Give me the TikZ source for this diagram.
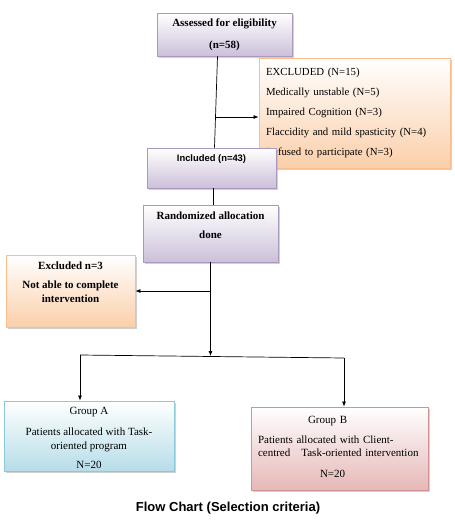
\documentclass[tikz,border=0pt]{standalone}
\usepackage{fontspec}
\setmainfont{Liberation Serif}
\setsansfont{Liberation Sans}
\usetikzlibrary{arrows.meta,shadows}

\definecolor{lavfill}{HTML}{CCC0D9}
\definecolor{lavline}{HTML}{A899BF}
\definecolor{orafill}{HTML}{FBCFAA}
\definecolor{oraline}{HTML}{F9BE8C}
\definecolor{bluefill}{HTML}{B6DDE8}
\definecolor{blueline}{HTML}{8CCADB}
\definecolor{pinkfill}{HTML}{E5B8B7}
\definecolor{pinkline}{HTML}{D49292}

\tikzset{
    box/.style={draw, line width=0.8pt, inner sep=2pt,
        drop shadow={shadow xshift=2pt, shadow yshift=-2pt, fill=gray!60, opacity=0.6}},
    lavbox/.style={box, draw=lavline, top color=white, bottom color=lavfill},
    orabox/.style={box, draw=oraline, top color=white, bottom color=orafill},
    bluebox/.style={box, draw=blueline, top color=white, bottom color=bluefill},
    pinkbox/.style={box, draw=pinkline, top color=white, bottom color=pinkfill},
    link/.style={black, line width=0.7pt},
    arr/.style={link, -{Latex[length=5pt,width=4pt]}}
}

\begin{document}
\begin{tikzpicture}[x=1pt, y=-1pt]
        \useasboundingbox (0,0) rectangle (455,525);

        \node[lavbox, minimum width=135pt, minimum height=43pt, align=center,
            font=\fontsize{11}{13}\selectfont\bfseries] (assess) at (224.5,34.5)
            {Assessed for eligibility\\[9pt](n=58)};

        \node[orabox, minimum width=191pt, minimum height=110pt, inner xsep=7pt,
            text width=177pt, align=left, text depth=83pt,
            font=\fontsize{10.8}{20}\selectfont] (excl) at (354.5,113)
            {EXCLUDED (N=15)\\Medically unstable (N=5)\\Impaired Cognition (N=3)\\Flaccidity and mild spasticity (N=4)\\Refused to participate (N=3)};

        \node[lavbox, minimum width=129pt, minimum height=40pt, text depth=20pt,
            font=\fontsize{9.4}{11}\selectfont\sffamily\bfseries] (incl) at (211.5,168)
            {Included (n=43)};

        \coordinate (tap) at (215.5,117);
        \draw[link] ([xshift=-7pt]assess.south) -- ([xshift=3pt]incl.north);
        \draw[arr] (tap) -- (excl.west |- tap);

        \node[lavbox, minimum width=135pt, minimum height=57pt, align=center, text depth=16pt,
            font=\fontsize{11}{13}\selectfont\bfseries] (rand) at (210.5,233.5)
            {Randomized allocation\\[6pt]done};
        \draw[link] ([xshift=2pt]incl.south) -- ([xshift=2pt]incl.south |- rand.north);

        \node[orabox, minimum width=129pt, minimum height=72pt, align=center, text depth=17pt,
            font=\fontsize{11}{14}\selectfont\bfseries] (excl3) at (70.5,291)
            {Excluded n=3\\[5pt]Not able to complete\\intervention};

        \node[bluebox, minimum width=170pt, minimum height=68pt, align=center, text height=66pt,
            font=\fontsize{11}{14}\selectfont] (grpA) at (89,436)
            {Group A\\[7pt]Patients allocated with Task-\\oriented program\\[5pt]N=20};

        \node[pinkbox, minimum width=177pt, minimum height=83pt, inner xsep=7pt,
            text width=163pt, align=left, text depth=57pt,
            font=\fontsize{11}{13}\selectfont] (grpB) at (339.5,448.5)
            {\hspace*{50pt}Group B\\[7pt]Patients allocated with Client-\\centred\ \ \ Task-oriented intervention\\[8pt]\hspace*{62pt}N=20};

        \coordinate (forkA) at (80,355);
        \coordinate (forkB) at (344,358);
        \coordinate (forkM) at (210.5,356);
        \draw[arr] (rand.south) -- (forkM);
        \draw[arr] (rand.south |- excl3.east) -- (excl3.east);
        \draw[link] (forkA) -- (forkB);
        \draw[arr] (forkA) -- (forkA |- grpA.north);
        \draw[arr] (forkB) -- (forkB |- grpB.north);

        \node[font=\fontsize{13}{15}\selectfont\sffamily\bfseries] (caption) at (228,508)
            {Flow Chart (Selection criteria)};
    \end{tikzpicture}
\end{document}
